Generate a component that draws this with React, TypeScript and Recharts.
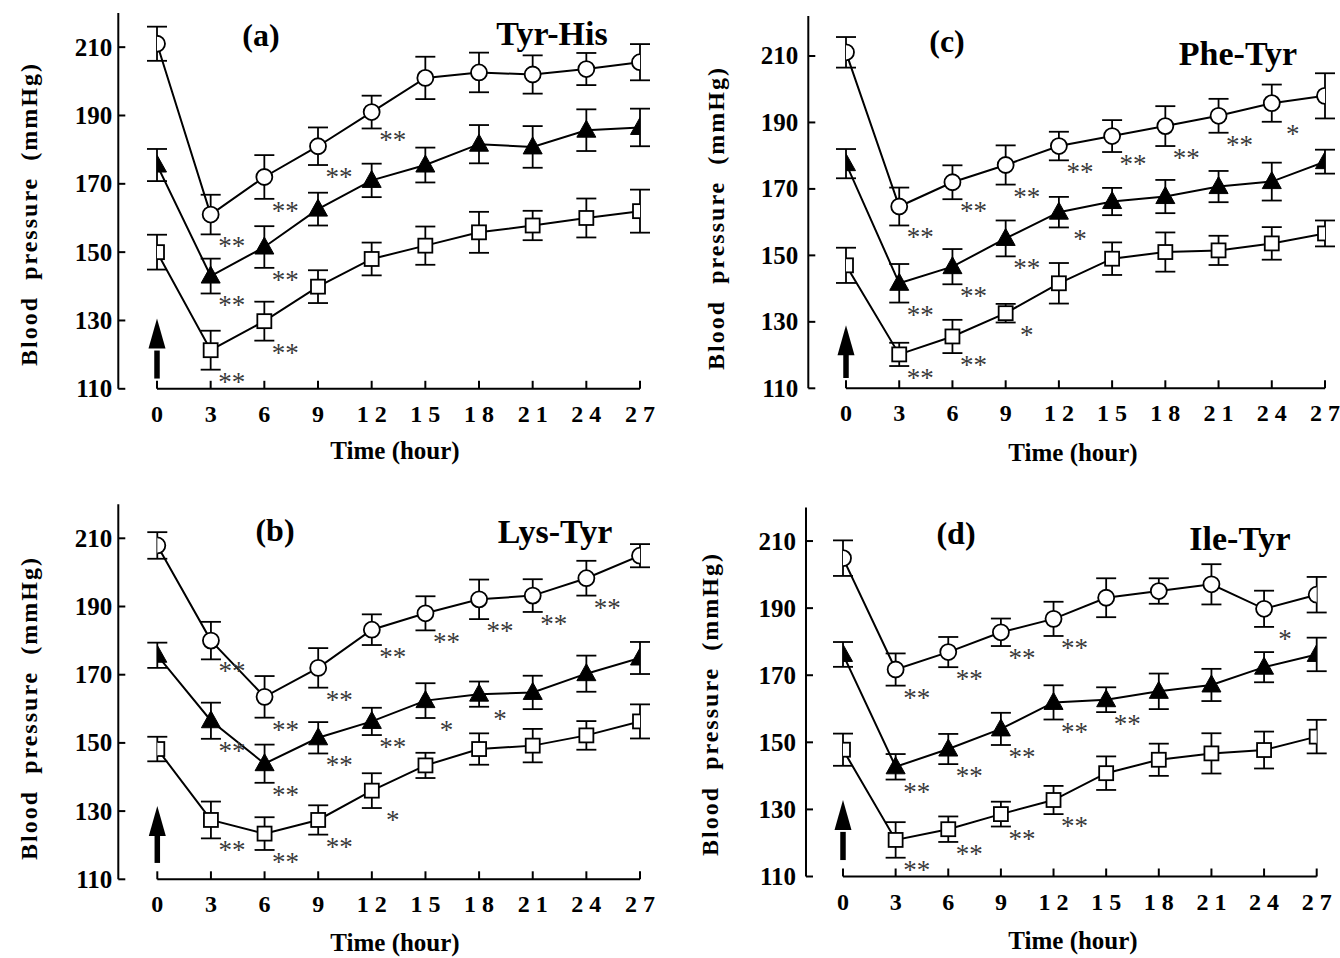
import React from 'react';
import { ComposedChart, Line, XAxis, YAxis, ErrorBar, ReferenceLine, ReferenceDot } from 'recharts';

const hours = [0, 3, 6, 9, 12, 15, 18, 21, 24, 27];
const hourTickLabels = ['0', '3', '6', '9', '1 2', '1 5', '1 8', '2 1', '2 4', '2 7'];
const pressureTicks = [110, 130, 150, 170, 190, 210];

// (a) Tyr-His
const aCircle = [211, 161, 172, 181, 191, 201, 202.6, 202, 203.6, 205.6];
const aCircleErr = [5, 5.8, 6.4, 5.5, 4.8, 6.2, 5.8, 5.6, 4.7, 5.3];
const aTri = [175.5, 143, 151.5, 162.6, 171, 175.5, 181.6, 180.8, 185.7, 186.5];
const aTriErr = [4.7, 5.1, 6.1, 4.8, 4.9, 5.1, 5.6, 6.1, 6.1, 5.5];
const aSq = [150, 121.3, 129.8, 139.9, 148, 151.9, 155.8, 157.8, 160, 162];
const aSqErr = [5.1, 5.7, 5.7, 4.8, 4.8, 5.6, 6, 4.3, 5.7, 6.3];
const aCircleSig = ['', '**', '**', '**', '**', '', '', '', '', ''];
const aTriSig = ['', '**', '**', '', '', '', '', '', '', ''];
const aSqSig = ['', '**', '**', '', '', '', '', '', '', ''];
const aArrow = [113.0, 121.2, 130.6];

// (c) Phe-Tyr
const cCircle = [211.1, 164.7, 172, 177.2, 182.9, 185.9, 188.9, 192, 195.8, 198];
const cCircleErr = [4.6, 5.7, 5.1, 5.9, 4.3, 4.8, 6, 5.1, 5.6, 6.8];
const cTri = [177.6, 141.6, 146.6, 155.1, 163, 166.2, 167.7, 170.7, 172.2, 178.2];
const cTriErr = [4.4, 5.8, 5.3, 5.4, 4.6, 4.1, 5, 4.7, 5.7, 3.6];
const cSq = [147, 120.2, 125.6, 132.6, 141.6, 149, 151, 151.5, 153.6, 156.6];
const cSqErr = [5.3, 3.5, 5, 2.8, 6.1, 4.9, 5.9, 4.4, 4.9, 3.9];
const cCircleSig = ['', '**', '**', '**', '**', '**', '**', '**', '*', '*'];
const cTriSig = ['', '**', '**', '**', '*', '', '', '', '', ''];
const cSqSig = ['', '**', '**', '*', '', '', '', '', '', ''];
const cArrow = [113.1, 120.9, 129.0];

// (b) Lys-Tyr
const bCircle = [207.9, 180, 163.5, 172, 183.2, 188, 192.1, 193.2, 198.3, 204.9];
const bCircleErr = [3.9, 5.5, 6.1, 5.8, 4.5, 5, 5.8, 4.8, 5.1, 3.4];
const bTri = [175.7, 156.5, 143.9, 151.5, 156.3, 162.4, 164.3, 164.8, 170.3, 174.9];
const bTriErr = [3.7, 5.3, 5.6, 4.6, 4, 5.1, 3.7, 4.9, 5.3, 4.7];
const bSq = [148.2, 127.4, 123.4, 127.4, 136, 143.4, 148.2, 149.2, 152.2, 156.3];
const bSqErr = [3.6, 5.4, 4.8, 4.3, 5.1, 3.7, 4.6, 4.9, 4.2, 5];
const bCircleSig = ['', '**', '**', '**', '**', '**', '**', '**', '**', ''];
const bTriSig = ['', '**', '**', '**', '**', '*', '*', '', '', ''];
const bSqSig = ['', '**', '**', '**', '*', '', '', '', '', ''];
const bArrow = [114.8, 123.6, 131.5];

// (d) Ile-Tyr
const dCircle = [204.9, 171.7, 176.9, 182.8, 186.8, 193.1, 195.1, 197.1, 189.8, 194];
const dCircleErr = [5.3, 4.8, 4.5, 4.1, 5.1, 5.8, 3.8, 6, 5.4, 5.3];
const dTri = [176.2, 142.7, 148, 154, 161.9, 162.7, 165.2, 167.1, 172.4, 176.2];
const dTriErr = [3.7, 3.8, 4.5, 4.8, 5.1, 3.7, 5.3, 4.8, 4.5, 5];
const dSq = [147.8, 120.9, 124.1, 128.6, 132.8, 140.8, 144.8, 146.7, 147.7, 151.7];
const dSqErr = [4.8, 5.3, 3.8, 3.7, 4.2, 5, 4.8, 6, 5.5, 5];
const dCircleSig = ['', '**', '**', '**', '**', '', '', '', '*', ''];
const dTriSig = ['', '**', '**', '**', '**', '**', '', '', '', ''];
const dSqSig = ['', '**', '**', '**', '**', '', '', '', '', ''];
const dArrow = [114.9, 123.3, 132.8];

const FONT = "'Liberation Serif', 'Times New Roman', Times, serif";

function buildRows(c: number[], ce: number[], tr: number[], tre: number[], s: number[], se: number[]) {
  return hours.map((t, i) => ({
    t,
    c: c[i], cErr: ce[i], cLow: c[i] - ce[i],
    tr: tr[i], trErr: tre[i], trLow: tr[i] - tre[i],
    s: s[i], sErr: se[i], sLow: s[i] - se[i],
  }));
}

const XTick = (props: any) => {
  const { x, y, payload } = props;
  const i = hours.indexOf(payload.value);
  return (
    <g>
      <line x1={x} y1={y} x2={x} y2={y - 8} stroke="#000" strokeWidth={2} />
      <text x={x} y={y + 33} textAnchor="middle" fontFamily={FONT} fontWeight="bold" fontSize={24} fill="#000">
        {hourTickLabels[i]}
      </text>
    </g>
  );
};

const makeYTick = (gap: number) => (props: any) => {
  const { x, y, payload } = props;
  return (
    <g>
      <line x1={x} y1={y} x2={x + 7} y2={y} stroke="#000" strokeWidth={2} />
      <text x={x - gap} y={y + 8.5} textAnchor="end" fontFamily={FONT} fontWeight="bold" fontSize={25} fill="#000">
        {payload.value}
      </text>
    </g>
  );
};

const CircleDot = (props: any) => {
  const { cx, cy, index } = props;
  return <circle key={`c-${index}`} cx={cx} cy={cy} r={8} fill="#fff" stroke="#000" strokeWidth={1.8} />;
};
const TriDot = (props: any) => {
  const { cx, cy, index } = props;
  return (
    <polygon key={`t-${index}`} points={`${cx},${cy - 10} ${cx - 9.5},${cy + 7} ${cx + 9.5},${cy + 7}`} fill="#000" stroke="#000" strokeWidth={1} />
  );
};
const SqDot = (props: any) => {
  const { cx, cy, index } = props;
  return <rect key={`s-${index}`} x={cx - 7} y={cy - 7} width={14} height={14} fill="#fff" stroke="#000" strokeWidth={1.8} />;
};

const makeStarDot = (sig: string[], tag: string, maxX: number) => (props: any) => {
  const { cx, cy, index } = props;
  const s = sig[index];
  if (!s || cx == null || cy == null) return <g key={`${tag}-${index}`} />;
  const half = s.length * 7;
  const x = Math.min(cx + 21, maxX - half);
  return (
    <text key={`${tag}-${index}`} x={x} y={cy + 21} textAnchor="middle" fontFamily={FONT} fontSize={27} fill="#3a3a3a">
      {s}
    </text>
  );
};

const ArrowHead = (props: any) => {
  const { cx, cy } = props;
  return <polygon points={`${cx},${cy} ${cx - 8.5},${cy + 30} ${cx + 8.5},${cy + 30}`} fill="#000" />;
};

type Panel = {
  id: string;
  rows: any[];
  sig: { c: string[]; tr: string[]; s: string[] };
  arrow: number[];
  left: number; top: number; width: number; height: number;
  margin: { top: number; right: number; bottom: number; left: number };
  yMax: number; padLeft: number; gap: number;
};

const panels: Panel[] = [
  {
    id: 'a', rows: buildRows(aCircle, aCircleErr, aTri, aTriErr, aSq, aSqErr),
    sig: { c: aCircleSig, tr: aTriSig, s: aSqSig }, arrow: aArrow,
    left: 0, top: 0, width: 670, height: 479,
    margin: { top: 13, right: 30, bottom: 60.2, left: 68.3 }, yMax: 220, padLeft: 38.7, gap: 6,
  },
  {
    id: 'c', rows: buildRows(cCircle, cCircleErr, cTri, cTriErr, cSq, cSqErr),
    sig: { c: cCircleSig, tr: cTriSig, s: cSqSig }, arrow: cArrow,
    left: 690, top: 0, width: 650, height: 479,
    margin: { top: 16.1, right: 15, bottom: 60.7, left: 68.3 }, yMax: 222, padLeft: 37.7, gap: 10,
  },
  {
    id: 'b', rows: buildRows(bCircle, bCircleErr, bTri, bTriErr, bSq, bSqErr),
    sig: { c: bCircleSig, tr: bTriSig, s: bSqSig }, arrow: bArrow,
    left: 0, top: 479, width: 670, height: 479,
    margin: { top: 25.2, right: 30, bottom: 48.7, left: 68.3 }, yMax: 220, padLeft: 39, gap: 6,
  },
  {
    id: 'd', rows: buildRows(dCircle, dCircleErr, dTri, dTriErr, dSq, dSqErr),
    sig: { c: dCircleSig, tr: dTriSig, s: dSqSig }, arrow: dArrow,
    left: 690, top: 479, width: 650, height: 479,
    margin: { top: 28.5, right: 23.3, bottom: 51.5, left: 66 }, yMax: 220, padLeft: 37, gap: 10,
  },
];

const titles = [
  { letter: '(a)', lx: 261, ly: 46, name: 'Tyr-His', nx: 552, ny: 45, ylx: 37, yly: 214, xlx: 395, xly: 459 },
  { letter: '(c)', lx: 947, ly: 52, name: 'Phe-Tyr', nx: 1238, ny: 65, ylx: 724, yly: 218, xlx: 1073, xly: 461 },
  { letter: '(b)', lx: 275, ly: 541, name: 'Lys-Tyr', nx: 555, ny: 543, ylx: 37, yly: 708, xlx: 395, xly: 951 },
  { letter: '(d)', lx: 956, ly: 544, name: 'Ile-Tyr', nx: 1240, ny: 550, ylx: 718, yly: 704, xlx: 1073, xly: 949 },
];

function PanelChart({ p }: { p: Panel }) {
  return (
    <div style={{ position: 'absolute', left: p.left, top: p.top, width: p.width, height: p.height }}>
      <ComposedChart width={p.width} height={p.height} data={p.rows} margin={p.margin}>
        <XAxis
          dataKey="t" type="number" domain={[0, 27]} ticks={hours} interval={0}
          padding={{ left: p.padLeft, right: 0 }} axisLine={false} tickLine={false}
          tickSize={0} tickMargin={0} tick={XTick} height={30} allowDataOverflow
        />
        <YAxis
          type="number" domain={[110, p.yMax]} ticks={pressureTicks} interval={0} width={50}
          axisLine={{ stroke: '#000', strokeWidth: 2 }} tickLine={false} tickSize={0} tickMargin={0}
          tick={makeYTick(p.gap)} allowDataOverflow
        />
        <ReferenceLine segment={[{ x: 0, y: 110 }, { x: 27, y: 110 }]} stroke="#000" strokeWidth={2} ifOverflow="visible" />
        <ReferenceLine segment={[{ x: 0, y: p.arrow[0] }, { x: 0, y: p.arrow[1] }]} stroke="#000" strokeWidth={5.5} ifOverflow="visible" />
        <ReferenceDot x={0} y={p.arrow[2]} shape={ArrowHead} ifOverflow="visible" />
        <Line dataKey="s" stroke="#000" strokeWidth={2} dot={SqDot} activeDot={false} isAnimationActive={false} legendType="none">
          <ErrorBar dataKey="sErr" width={10} stroke="#000" strokeWidth={1.8} />
        </Line>
        <Line dataKey="tr" stroke="#000" strokeWidth={2} dot={TriDot} activeDot={false} isAnimationActive={false} legendType="none">
          <ErrorBar dataKey="trErr" width={10} stroke="#000" strokeWidth={1.8} />
        </Line>
        <Line dataKey="c" stroke="#000" strokeWidth={2} dot={CircleDot} activeDot={false} isAnimationActive={false} legendType="none">
          <ErrorBar dataKey="cErr" width={10} stroke="#000" strokeWidth={1.8} />
        </Line>
        <Line dataKey="cLow" stroke="none" dot={makeStarDot(p.sig.c, `${p.id}c`, p.width - 2)} activeDot={false} isAnimationActive={false} legendType="none" />
        <Line dataKey="trLow" stroke="none" dot={makeStarDot(p.sig.tr, `${p.id}t`, p.width - 2)} activeDot={false} isAnimationActive={false} legendType="none" />
        <Line dataKey="sLow" stroke="none" dot={makeStarDot(p.sig.s, `${p.id}s`, p.width - 2)} activeDot={false} isAnimationActive={false} legendType="none" />
      </ComposedChart>
    </div>
  );
}

export default function App() {
  return (
    <div style={{ position: 'absolute', left: 0, top: 0, width: 1340, height: 958, background: '#fff', overflow: 'hidden' }}>
      {panels.map((p) => (
        <PanelChart key={p.id} p={p} />
      ))}
      <svg width={1340} height={958} style={{ position: 'absolute', left: 0, top: 0, pointerEvents: 'none' }}>
        {titles.map((t) => (
          <g key={t.letter} fontFamily={FONT} fontWeight="bold" fill="#000">
            <text x={t.lx} y={t.ly} textAnchor="middle" fontSize={32}>{t.letter}</text>
            <text x={t.nx} y={t.ny} textAnchor="middle" fontSize={34}>{t.name}</text>
            <text x={t.xlx} y={t.xly} textAnchor="middle" fontSize={25}>Time (hour)</text>
            <text
              transform={`translate(${t.ylx},${t.yly}) rotate(-90)`} x={0} y={0} textAnchor="middle"
              fontSize={24} style={{ letterSpacing: '2px', wordSpacing: '8px' }}
            >
              Blood pressure (mmHg)
            </text>
          </g>
        ))}
      </svg>
    </div>
  );
}
